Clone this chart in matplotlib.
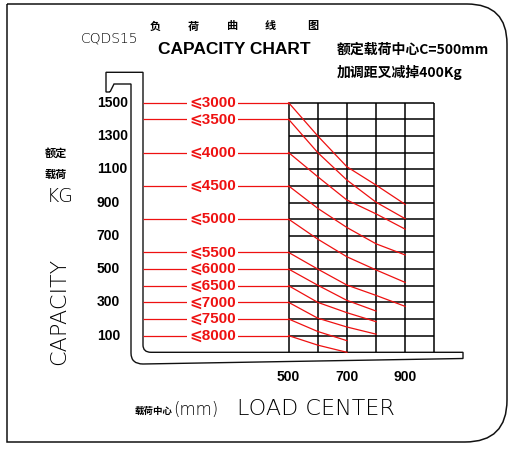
import numpy as np
import matplotlib
matplotlib.use('Agg')
import matplotlib.pyplot as plt
from matplotlib.path import Path
from matplotlib.patches import PathPatch
from matplotlib.transforms import Affine2D

# data
load_centers = [500, 600, 700, 800, 900]
lift_labels = ['⩽3000', '⩽3500', '⩽4000', '⩽4500', '⩽5000', '⩽5500',
               '⩽6000', '⩽6500', '⩽7000', '⩽7500', '⩽8000']
curves = [
    [1500, 1300, 1115, 1005, 889],
    [1400, 1200, 1035, 902, 803],
    [1200, 1055, 915, 832, 740],
    [1000, 865, 750, 652, 585],
    [800, 680, 574, 495, 420],
    [600, 500, 404, 342, 276],
    [500, 403, 312, 248],
    [400, 300, 238, 184],
    [300, 205, 152, 109],
    [200, 125, 70],
    [100, 43, 0],
]
y_ticks = [1500, 1300, 1100, 900, 700, 500, 300, 100]
x_ticks = [500, 700, 900]
grid_x = [500, 600, 700, 800, 900, 1000]
grid_y = list(range(100, 1600, 100))

W, H = 517, 451
RED = '#ee1111'
CJK = ['Noto Sans CJK SC', 'DejaVu Sans']

fig = plt.figure(figsize=(W / 100, H / 100), dpi=100)
ax = fig.add_axes([0, 0, 1, 1])
ax.axis('off')

# map data (mm, kg) onto the picture: x=0 at px 143, y=0 at px 352.3
sx = (434.3 - 143) / 1000
sy = (352.3 - 102.7) / 1500
ax.set_xlim(-143 / sx, (W - 143) / sx)
ax.set_ylim(-(H - 352.3) / sy, 352.3 / sy)

# pixel transform for the frame drawings (origin top-left)
px = Affine2D().scale(1 / W, -1 / H).translate(0, 1) + fig.transFigure

# outer frame with rounded right corners
frame = Path([(7, 4), (467, 4), (507, 4), (507, 44), (507, 400), (507, 442),
              (465, 442), (7, 442), (7, 4)],
             [Path.MOVETO, Path.LINETO, Path.CURVE3, Path.CURVE3, Path.LINETO,
              Path.CURVE3, Path.CURVE3, Path.LINETO, Path.LINETO])
ax.add_patch(PathPatch(frame, transform=px, fill=False, lw=1.1, ec='#111'))

# mast and fork outline
fork = Path([(110, 92), (114, 84), (131, 84), (131, 353), (131, 364), (143, 364),
             (463, 358.5), (463, 352.3), (151, 352.3), (143, 352.3), (143, 345),
             (143, 72.3), (106, 72.3), (106, 92), (110, 92)],
            [Path.MOVETO, Path.LINETO, Path.LINETO, Path.LINETO, Path.CURVE3,
             Path.CURVE3, Path.LINETO, Path.LINETO, Path.LINETO, Path.CURVE3,
             Path.CURVE3, Path.LINETO, Path.LINETO, Path.LINETO, Path.LINETO])
ax.add_patch(PathPatch(fork, transform=px, fill=False, lw=1.0, ec='#111'))

# grid
ax.vlines(grid_x, 0, 1500, colors='black', lw=1.1)
ax.hlines(grid_y, 500, 1000, colors='black', lw=1.1)

# lift height lines and curves
for lab, cap in zip(lift_labels, curves):
    ax.hlines(cap[0], 0, 500, colors=RED, lw=0.9)
    ax.text(240, cap[0], lab, color=RED, fontsize=11, fontweight='bold',
            family=['Liberation Sans', 'DejaVu Sans'], ha='center', va='center',
            bbox=dict(fc='white', ec='none', pad=1.5))
    ax.plot(load_centers[:len(cap)], cap, color=RED, lw=0.9)

# tick labels
for v in y_ticks:
    ax.text(-159, v, str(v), fontsize=10, fontweight='bold',
            family='Liberation Sans', ha='left', va='center')
for v in x_ticks:
    ax.text(v, -151, str(v), fontsize=10, fontweight='bold',
            family='Liberation Sans', ha='center', va='center')

# titles
fig.text(81 / W, 1 - 38 / H, 'CQDS15', fontsize=10, family='DejaVu Sans',
         fontweight='light', color='black', ha='left', va='center')
for ch, cx in zip('负荷曲线图', [155, 193, 233, 270, 313]):
    fig.text(cx / W, 1 - 26 / H, ch, fontsize=8, family=CJK, fontweight='bold',
             ha='center', va='center')
fig.text(158 / W, 1 - 50 / H, 'CAPACITY CHART', fontsize=12.5,
         family='Liberation Sans', fontweight='bold', ha='left', va='center')
fig.text(337 / W, 1 - 50 / H, '额定载荷中心C=500mm', fontsize=10, family=CJK,
         fontweight='bold', ha='left', va='center')
fig.text(337 / W, 1 - 72 / H, '加调距叉减掉400Kg', fontsize=10, family=CJK,
         fontweight='bold', ha='left', va='center')

# axis captions
fig.text(56 / W, 1 - 153 / H, '额定', fontsize=8, family=CJK, fontweight='bold',
         ha='center', va='center')
fig.text(56 / W, 1 - 174 / H, '载荷', fontsize=8, family=CJK, fontweight='bold',
         ha='center', va='center')
fig.text(60 / W, 1 - 197 / H, 'KG', fontsize=13.5, family='DejaVu Sans',
         fontweight='light', ha='center', va='center')
fig.text(59 / W, 1 - 311 / H, 'CAPACITY', fontsize=16, family='DejaVu Sans',
         fontweight='light', rotation=90, ha='center', va='center')
fig.text(135 / W, 1 - 411 / H, '载荷中心', fontsize=6.8, family=CJK,
         fontweight='bold', ha='left', va='center')
fig.text(173 / W, 1 - 410 / H, '(mm)', fontsize=12, family='DejaVu Sans',
         fontweight='light', ha='left', va='center')
fig.text(237 / W, 1 - 409 / H, 'LOAD CENTER', fontsize=16, family='DejaVu Sans',
         fontweight='light', ha='left', va='center')

fig.savefig('out.png', dpi=100)
